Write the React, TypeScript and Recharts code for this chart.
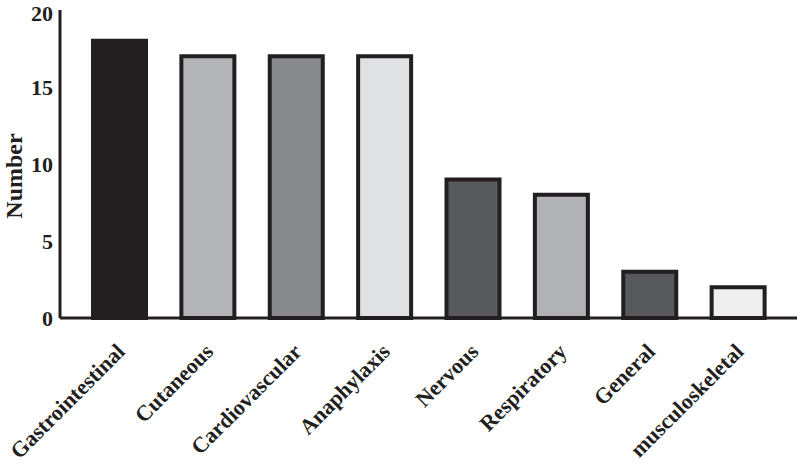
import React from 'react';
import { BarChart, Bar, XAxis, YAxis, Cell } from 'recharts';

const categories = ['Gastrointestinal', 'Cutaneous', 'Cardiovascular', 'Anaphylaxis', 'Nervous', 'Respiratory', 'General', 'musculoskeletal'];
const values = [18, 17, 17, 17, 9, 8, 3, 2];
const fills = ['#231f20', '#b3b4b7', '#898a8d', '#e0e1e2', '#58595b', '#b1b2b5', '#58595b', '#efefef'];
const yTicks = [0, 5, 10, 15, 20];

const data = categories.map((name, i) => ({ name, value: values[i] }));

const INK = '#231f20';
const FONT = '"Liberation Serif", "Times New Roman", serif';

const XTick = (props: any) => {
  const { x, y, payload } = props;
  const ax = x + 7;
  const ay = y + 27;
  return (
    <text
      x={ax}
      y={ay}
      transform={`rotate(-45 ${ax} ${ay})`}
      textAnchor="end"
      fontFamily={FONT}
      fontWeight="bold"
      fontSize={22}
      fill={INK}
    >
      {payload.value}
    </text>
  );
};

const YLabel = (props: any) => {
  const cx = 22;
  const cy = 176;
  return (
    <text
      x={cx}
      y={cy}
      transform={`rotate(-90 ${cx} ${cy})`}
      textAnchor="middle"
      fontFamily={FONT}
      fontWeight="bold"
      fontSize={24}
      fill={INK}
    >
      Number
    </text>
  );
};

export default function App() {
  return (
    <div style={{ position: 'absolute', left: 0, top: 0, width: 800, height: 466, background: '#fff' }}>
      <BarChart width={800} height={466} data={data} margin={{ top: 10, right: 3, bottom: 8, left: 0 }} barCategoryGap={0}>
        <XAxis
          dataKey="name"
          interval={0}
          tick={<XTick />}
          tickLine={false}
          axisLine={{ stroke: INK, strokeWidth: 3 }}
          height={140}
          padding={{ left: 15, right: 15 }}
        />
        <YAxis
          domain={[0, 20]}
          ticks={yTicks}
          width={60}
          tickLine={false}
          tickSize={0}
          tickMargin={7}
          axisLine={{ stroke: INK, strokeWidth: 3 }}
          tick={{ fontFamily: FONT, fontWeight: 'bold', fontSize: 22, fill: INK }}
          label={<YLabel />}
        />
        <Bar dataKey="value" barSize={53} stroke={INK} strokeWidth={4} isAnimationActive={false}>
          {data.map((d, i) => (
            <Cell key={d.name} fill={fills[i]} />
          ))}
        </Bar>
      </BarChart>
    </div>
  );
}
